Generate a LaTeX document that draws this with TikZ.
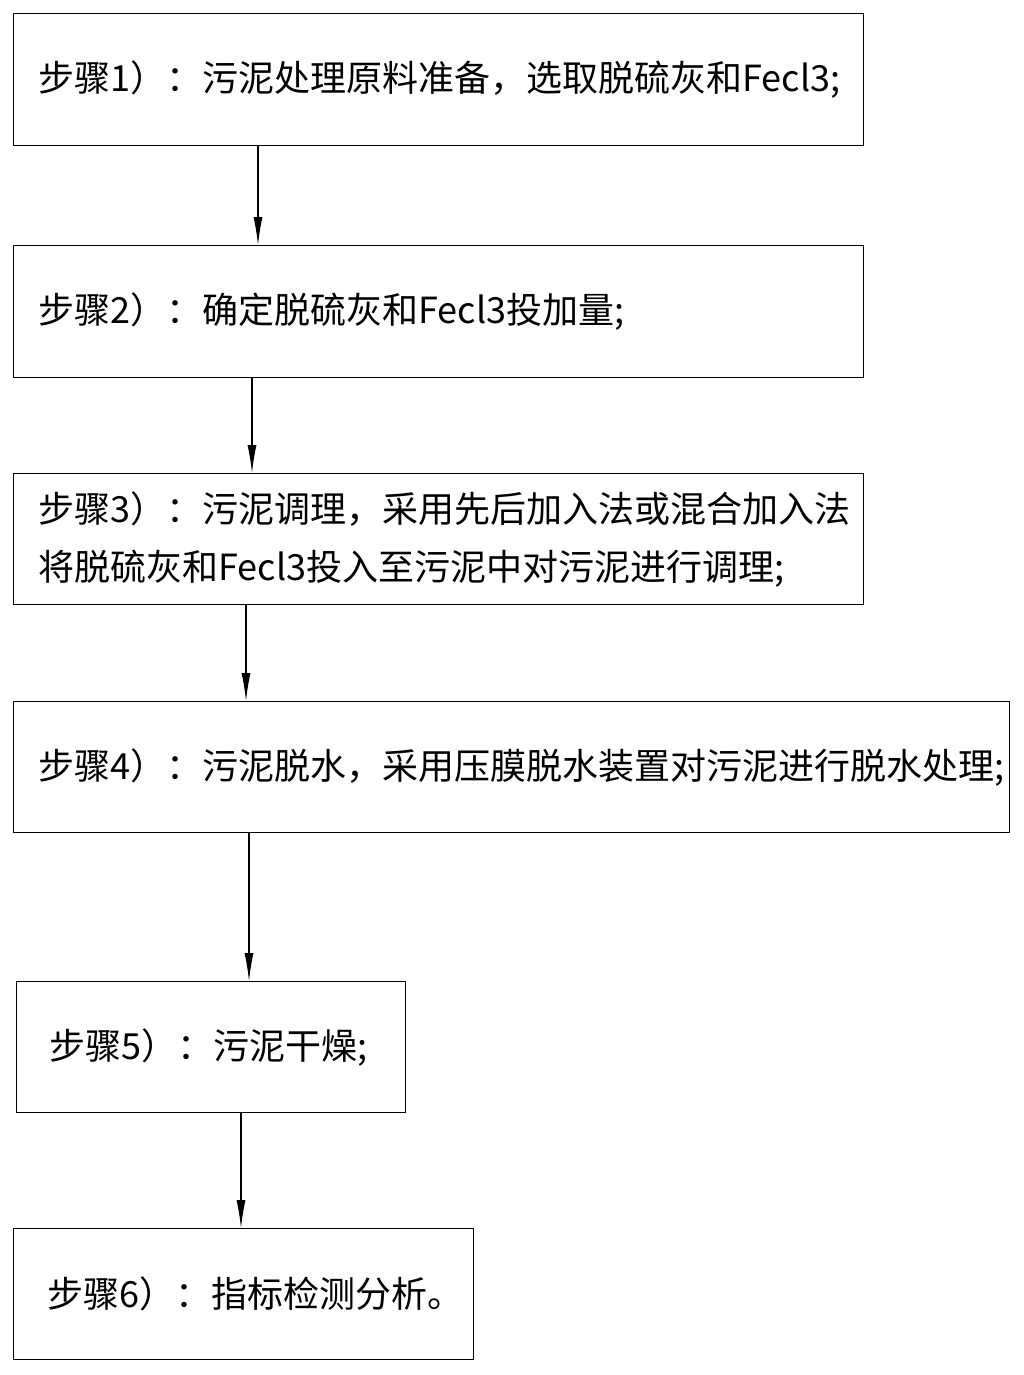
\documentclass[tikz,border=0pt]{standalone}
\usepackage{fontspec}
\setmainfont{Noto Sans CJK SC}
\usetikzlibrary{arrows.meta,calc}
\tikzset{
  stepbox/.style={draw, line width=1.1pt, inner sep=0pt, anchor=north west, align=left,
    font=\fontsize{36}{58}\selectfont},
  arr/.style={line width=1.1pt, -{Latex[length=28pt,width=9pt]}}
}
\begin{document}
\begin{tikzpicture}[x=1pt,y=-1pt]
\useasboundingbox (0,0) rectangle (1023,1375);
\node[stepbox, text width=850pt, minimum height=132pt] (b1) at (13,13)
  {\hspace*{25pt}步骤1）：污泥处理原料准备，选取脱硫灰和Fecl3;};
\node[stepbox, text width=850pt, minimum height=132pt] (b2) at (13,245)
  {\hspace*{25pt}步骤2）：确定脱硫灰和Fecl3投加量;};
\node[stepbox, text width=850pt, minimum height=131pt] (b3) at (13,473)
  {\hspace*{25pt}步骤3）：污泥调理，采用先后加入法或混合加入法\\\hspace*{25pt}将脱硫灰和Fecl3投入至污泥中对污泥进行调理;};
\node[stepbox, text width=996pt, minimum height=131pt] (b4) at (13,701)
  {\hspace*{25pt}步骤4）：污泥脱水，采用压膜脱水装置对污泥进行脱水处理;};
\node[stepbox, text width=389pt, minimum height=131pt] (b5) at (16,981)
  {\hspace*{33pt}步骤5）：污泥干燥;};
\node[stepbox, text width=460pt, minimum height=131pt] (b6) at (13,1228)
  {\hspace*{34pt}步骤6）：指标检测分析。};
\draw[arr] (b1.south west) ++(245,0) coordinate (a1) -- (a1 |- b2.north);
\draw[arr] (b2.south west) ++(239,0) coordinate (a2) -- (a2 |- b3.north);
\draw[arr] (b3.south west) ++(233,0) coordinate (a3) -- (a3 |- b4.north);
\draw[arr] (b4.south west) ++(236,0) coordinate (a4) -- (a4 |- b5.north);
\draw[arr] (b5.south west) ++(225,0) coordinate (a5) -- (a5 |- b6.north);
\end{tikzpicture}
\end{document}
